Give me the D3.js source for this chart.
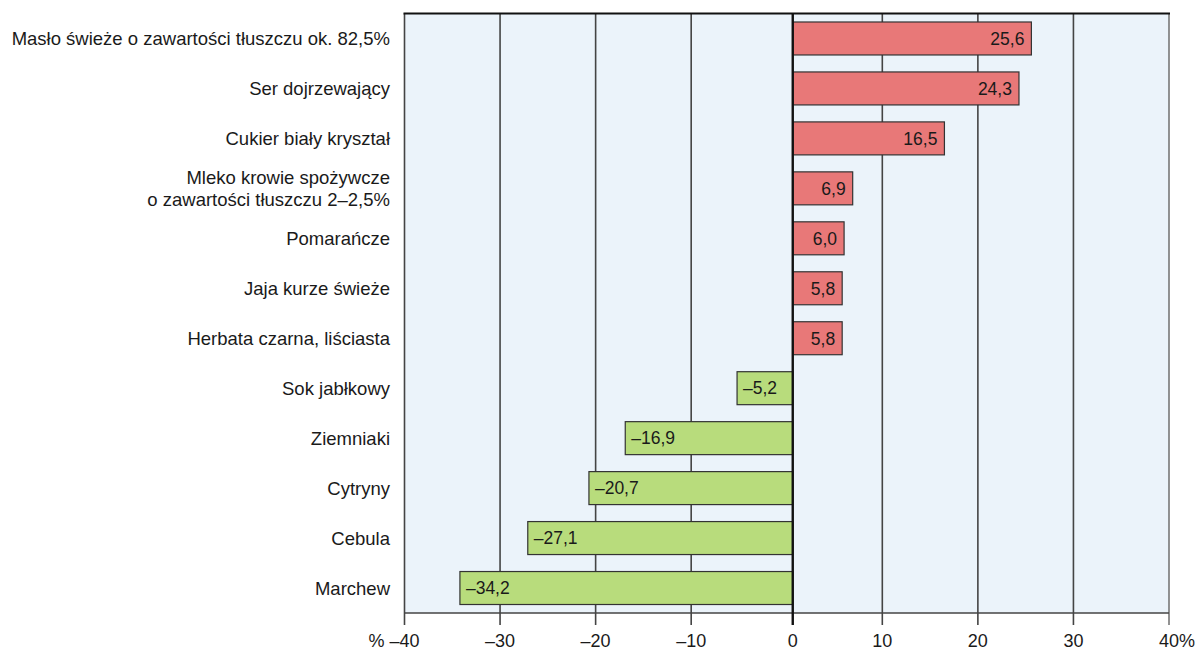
<!DOCTYPE html>
<html>
<head>
<meta charset="utf-8">
<script src="https://cdn.jsdelivr.net/npm/d3@7"></script>
<style>
  body { margin: 0; background: #fff; }
  text { font-family: "Liberation Sans", Arial, sans-serif; fill: #1a1a1a; }
</style>
</head>
<body>
<div id="chart"></div>
<script>
// Categories (two-line labels split with "\n")
var categories = [
    "Masło świeże o zawartości tłuszczu ok. 82,5%",
    "Ser dojrzewający",
    "Cukier biały kryształ",
    "Mleko krowie spożywcze\no zawartości tłuszczu 2–2,5%",
    "Pomarańcze",
    "Jaja kurze świeże",
    "Herbata czarna, liściasta",
    "Sok jabłkowy",
    "Ziemniaki",
    "Cytryny",
    "Cebula",
    "Marchew"
];
var values = [25.6, 24.3, 16.5, 6.9, 6.0, 5.8, 5.8, -5.2, -16.9, -20.7, -27.1, -34.2];
var tickValues = [-40, -30, -20, -10, 0, 10, 20, 30, 40];
var tickLabels = ["–40", "–30", "–20", "–10", "0", "10", "20", "30", "40"];

var width = 1195, height = 653;
var margin = {top: 13.5, right: 26, bottom: 40, left: 404.5};

var svg = d3.select("#chart").append("svg")
    .attr("width", width)
    .attr("height", height);

var x = d3.scaleLinear()
    .domain([-40, 40])
    .range([margin.left, width - margin.right]);

var y = d3.scaleBand()
    .domain(categories)
    .range([margin.top, height - margin.bottom])
    .paddingInner(0.34)
    .paddingOuter(0.17);

// the zero line in the original sits a little right of the true 0
var zeroX = x(0) + 6;
var fmt = function(v) { return (v < 0 ? "–" : "") + d3.format(".1f")(Math.abs(v)).replace(".", ","); };

// plot background
svg.append("rect")
    .attr("x", x(-40)).attr("y", margin.top)
    .attr("width", x(40) - x(-40))
    .attr("height", height - margin.bottom - margin.top)
    .attr("fill", "#ebf3fa");

// grid lines
svg.append("g").selectAll("line")
    .data(tickValues.filter(function(t) { return t !== 0; }))
    .enter().append("line")
    .attr("x1", function(d) { return x(d); })
    .attr("x2", function(d) { return x(d); })
    .attr("y1", margin.top)
    .attr("y2", height - margin.bottom + 12)
    .attr("stroke", function(d) { return d === 40 ? "#777" : "#444"; })
    .attr("stroke-width", 1.6);

// top border
svg.append("line")
    .attr("x1", x(-40) - 1).attr("x2", x(40) + 1)
    .attr("y1", margin.top).attr("y2", margin.top)
    .attr("stroke", "#111").attr("stroke-width", 1.8);

// bottom axis line
svg.append("line")
    .attr("x1", x(-40)).attr("x2", x(40))
    .attr("y1", height - margin.bottom).attr("y2", height - margin.bottom)
    .attr("stroke", "#444").attr("stroke-width", 1.6);

// bars
var bar = svg.append("g").selectAll("g")
    .data(values)
    .enter().append("g");

bar.append("rect")
    .attr("x", function(d) { return d >= 0 ? zeroX : x(d); })
    .attr("y", function(d, i) { return y(categories[i]); })
    .attr("width", function(d) { return d >= 0 ? x(d) - zeroX : zeroX - x(d); })
    .attr("height", y.bandwidth())
    .attr("fill", function(d) { return d >= 0 ? "#e87878" : "#b8dc7c"; })
    .attr("stroke", "#333")
    .attr("stroke-width", 1.2);

bar.append("text")
    .attr("x", function(d) { return d >= 0 ? x(d) - 7 : x(d) + 6; })
    .attr("y", function(d, i) { return y(categories[i]) + y.bandwidth() / 2; })
    .attr("dy", "0.36em")
    .attr("text-anchor", function(d) { return d >= 0 ? "end" : "start"; })
    .attr("font-size", 17.5)
    .text(fmt);

// zero line
svg.append("line")
    .attr("x1", zeroX).attr("x2", zeroX)
    .attr("y1", margin.top).attr("y2", height - margin.bottom + 12)
    .attr("stroke", "#111").attr("stroke-width", 2.4);

// category labels
var cat = svg.append("g").selectAll("text")
    .data(categories)
    .enter().append("text")
    .attr("text-anchor", "end")
    .attr("font-size", 18.5)
    .attr("y", function(d) { return y(d) + y.bandwidth() / 2; });

cat.each(function(d) {
    var lines = d.split("\n");
    var t = d3.select(this);
    lines.forEach(function(l, k) {
        t.append("tspan")
            .attr("x", 390)
            .attr("dy", k === 0 ? (0.36 - (lines.length - 1) * 0.6) + "em" : "1.2em")
            .text(l);
    });
});

// tick labels
var tl = svg.append("g").selectAll("text")
    .data(tickValues)
    .enter().append("text")
    .attr("x", function(d) { return d === 0 ? zeroX : x(d); })
    .attr("y", 647)
    .attr("text-anchor", "middle")
    .attr("font-size", 18)
    .text(function(d, i) { return tickLabels[i]; });

// percent signs beside the end ticks
tl.each(function(d, i) {
    var w = this.getComputedTextLength();
    if (i === 0) {
        svg.append("text").attr("x", x(d) - w / 2 - 5).attr("y", 647)
            .attr("text-anchor", "end").attr("font-size", 18).text("%");
    } else if (i === tickValues.length - 1) {
        svg.append("text").attr("x", x(d) + w / 2).attr("y", 647)
            .attr("text-anchor", "start").attr("font-size", 18).text("%");
    }
});
</script>
</body>
</html>
